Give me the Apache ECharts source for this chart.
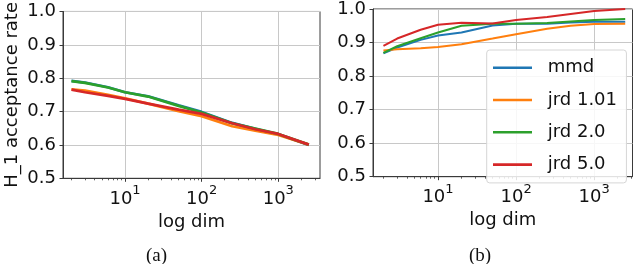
<!DOCTYPE html>
<html><head><meta charset="utf-8">
<script src="https://cdn.jsdelivr.net/npm/echarts@6/dist/echarts.min.js"></script>
<style>html,body{margin:0;padding:0;background:#fff}#c{width:640px;height:264px}</style>
</head><body><div id="c"></div>
<script>
// ---- data ----
const dims = [2, 3, 6, 10, 20, 50, 100, 250, 500, 1000, 2500];
const seriesNames = ['mmd', 'jrd 1.01', 'jrd 2.0', 'jrd 5.0'];
const colors = ['#1f77b4', '#ff7f0e', '#2ca02c', '#d62728'];
// panel (a)
const aMmd   = [0.792, 0.787, 0.773, 0.758, 0.746, 0.719, 0.699, 0.666, 0.648, 0.632, 0.600];
const aJrd101= [0.767, 0.763, 0.750, 0.740, 0.724, 0.701, 0.686, 0.656, 0.643, 0.630, 0.601];
const aJrd2  = [0.791, 0.786, 0.772, 0.758, 0.745, 0.717, 0.697, 0.665, 0.649, 0.633, 0.601];
const aJrd5  = [0.766, 0.758, 0.747, 0.738, 0.724, 0.706, 0.693, 0.665, 0.647, 0.633, 0.601];
// panel (b)
const bMmd   = [0.868, 0.885, 0.908, 0.921, 0.930, 0.951, 0.956, 0.956, 0.960, 0.962, 0.962];
const bJrd101= [0.876, 0.880, 0.883, 0.887, 0.895, 0.912, 0.925, 0.941, 0.950, 0.955, 0.956];
const bJrd2  = [0.869, 0.889, 0.913, 0.930, 0.950, 0.956, 0.956, 0.958, 0.963, 0.967, 0.970];
const bJrd5  = [0.890, 0.912, 0.938, 0.953, 0.959, 0.957, 0.967, 0.976, 0.985, 0.994, 1.000];
// ticks
const yTicks = [0.5, 0.6, 0.7, 0.8, 0.9, 1.0];
const xMajor = [10, 100, 1000];
const xMinor = [2,3,4,5,6,7,8,9,20,30,40,50,60,70,80,90,200,300,400,500,600,700,800,900,2000,3000];
const yTitle = 'H_1 acceptance rate';
const xTitle = 'log dim';
const captions = ['(a)', '(b)'];

// ---- chart ----
const FONT = 'DejaVu Sans';
const TXT = '#111';
const GRIDC = '#c8c8c8';
const SPINE = '#3a3a3a';

const panels = [
  {left: 63, top: 11, width: 257, height: 167.3, xmin: 1.55, xmax: 3500, lw: 2.7,
   data: [aMmd, aJrd101, aJrd2, aJrd5], yName: yTitle},
  {left: 373, top: 8, width: 259.5, height: 168.7, xmin: 1.47, xmax: 3100, lw: 2.0,
   data: [bMmd, bJrd101, bJrd2, bJrd5], yName: ''}
];

const grid = [], xAxis = [], yAxis = [], series = [];
panels.forEach((p, i) => {
  grid.push({left: p.left, top: p.top, width: p.width, height: p.height,
    show: true, borderColor: SPINE, borderWidth: 1, backgroundColor: 'transparent'});
  xAxis.push({
    type: 'log', logBase: 10, gridIndex: i, min: p.xmin, max: p.xmax, position: 'bottom',
    name: xTitle, nameLocation: 'middle', nameGap: 30,
    nameTextStyle: {fontFamily: FONT, fontSize: 18, color: TXT},
    axisLine: {show: true, lineStyle: {color: SPINE, width: 1}},
    axisTick: {show: true, length: 3.5, customValues: xMajor, lineStyle: {color: SPINE, width: 1}},
    splitLine: {show: true, lineStyle: {color: GRIDC, width: 1}},
    minorTick: {show: false}, minorSplitLine: {show: false},
    axisLabel: {
      customValues: xMajor, margin: 6, fontFamily: FONT, color: TXT,
      formatter: v => '{b|10}{s|' + Math.round(Math.log10(v)) + '}',
      rich: {
        b: {fontFamily: FONT, fontSize: 18, color: TXT, verticalAlign: 'bottom', lineHeight: 24},
        s: {fontFamily: FONT, fontSize: 13, color: TXT, verticalAlign: 'top', lineHeight: 14}
      }
    }
  });
  xAxis.push({
    type: 'log', logBase: 10, gridIndex: i, min: p.xmin, max: p.xmax, position: 'bottom', offset: 0,
    axisLine: {show: false, onZero: false},
    axisTick: {show: true, length: 2, customValues: xMinor, lineStyle: {color: SPINE, width: 0.8}},
    splitLine: {show: false}, axisLabel: {show: false}
  });
  yAxis.push({
    type: 'value', gridIndex: i, min: 0.5, max: 1.0, interval: 0.1,
    name: p.yName, nameLocation: 'middle', nameGap: 42,
    nameTextStyle: {fontFamily: FONT, fontSize: 18, color: TXT},
    axisLine: {show: true, lineStyle: {color: SPINE, width: 1}},
    axisTick: {show: true, length: 3.5, lineStyle: {color: SPINE, width: 1}},
    splitLine: {show: true, lineStyle: {color: GRIDC, width: 1}},
    axisLabel: {margin: 7, fontFamily: FONT, fontSize: 18, color: TXT,
      formatter: v => v.toFixed(1)}
  });
  p.data.forEach((arr, k) => {
    series.push({
      type: 'line', name: seriesNames[k], xAxisIndex: i * 2, yAxisIndex: i,
      data: dims.map((d, j) => [d, arr[j]]),
      symbol: 'none', smooth: false,
      lineStyle: {color: colors[k], width: p.lw},
      itemStyle: {color: colors[k]},
      z: 3 + k
    });
  });
});

const chart = echarts.init(document.getElementById('c'), null, {renderer: 'canvas'});
chart.setOption({
  animation: false,
  backgroundColor: '#fff',
  grid, xAxis, yAxis, series,
  legend: {
    orient: 'vertical', left: 486.7, top: 50,
    data: seriesNames.map((n, k) => ({name: n, icon: 'rect', itemStyle: {color: colors[k]}})),
    itemWidth: 39, itemHeight: 2.6, itemGap: 14.3,
    padding: [8.7, 9.4, 9.3, 6.3],
    backgroundColor: 'rgba(255,255,255,0.85)',
    borderColor: '#d6d6d6', borderWidth: 1, borderRadius: 3,
    textStyle: {fontFamily: FONT, fontSize: 18, color: TXT, lineHeight: 14, padding: [0, 0, 0, 10.7]},
    selectedMode: false, z: 10
  },
  graphic: captions.map((c, i) => ({
    type: 'text', left: i === 0 ? 158 - 12 : 481 - 12, top: 247,
    style: {text: c, font: '19px "Liberation Serif"', fill: '#111'}
  }))
});
</script>
</body></html>
